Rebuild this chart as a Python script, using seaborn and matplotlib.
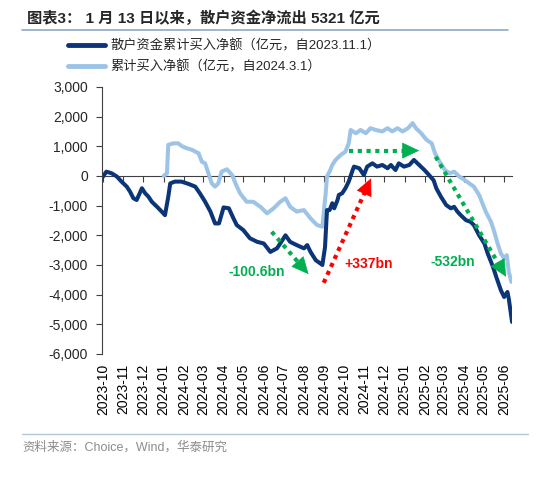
import numpy as np
import pandas as pd
import matplotlib
matplotlib.use("Agg")
import matplotlib.pyplot as plt
import matplotlib.dates as mdates
from matplotlib.ticker import FuncFormatter
import seaborn as sns

# Data (亿元)
retail_dates = [
    "2023-09-29", "2023-10-06", "2023-10-14", "2023-10-22", "2023-10-29", "2023-11-06",
    "2023-11-11", "2023-11-16", "2023-11-21", "2023-11-29", "2023-12-04", "2023-12-09",
    "2023-12-14", "2023-12-22", "2023-12-29", "2024-01-03", "2024-01-08", "2024-01-11",
    "2024-01-18", "2024-01-28", "2024-02-08", "2024-02-18", "2024-02-25", "2024-03-04",
    "2024-03-12", "2024-03-19", "2024-03-25", "2024-04-01", "2024-04-09", "2024-04-16",
    "2024-04-21", "2024-05-01", "2024-05-11", "2024-05-22", "2024-06-01", "2024-06-11",
    "2024-06-21", "2024-06-26", "2024-07-04", "2024-07-11", "2024-07-21", "2024-08-01",
    "2024-08-06", "2024-08-11", "2024-08-19", "2024-08-26", "2024-08-29", "2024-09-02",
    "2024-09-05", "2024-09-09", "2024-09-13", "2024-09-16", "2024-09-21", "2024-09-23",
    "2024-09-28", "2024-10-03", "2024-10-08", "2024-10-14", "2024-10-16", "2024-10-24",
    "2024-10-31", "2024-11-05", "2024-11-13", "2024-11-20", "2024-11-28", "2024-12-06",
    "2024-12-11", "2024-12-18", "2024-12-23", "2024-12-31", "2025-01-08", "2025-01-15",
    "2025-01-23", "2025-01-31", "2025-02-07", "2025-02-14", "2025-02-18", "2025-02-25",
    "2025-03-05", "2025-03-12", "2025-03-17", "2025-03-22", "2025-03-27", "2025-04-04",
    "2025-04-11", "2025-04-16", "2025-04-24", "2025-05-02", "2025-05-07", "2025-05-15",
    "2025-05-20", "2025-05-27", "2025-06-01", "2025-06-06", "2025-06-08", "2025-06-13",
]
retail_values = [
    -80, 145, 90, -20, -190, -360,
    -530, -750, -810, -415, -585, -700,
    -870, -1040, -1200, -1320, -700, -250,
    -190, -190, -270, -360, -585, -870,
    -1200, -1600, -1600, -1060, -1090, -1430,
    -1655, -1825, -2100, -2220, -2275, -2560,
    -2440, -2275, -2000, -2220, -2330, -2440,
    -2330, -2560, -2840, -2950, -3000, -2400,
    -1150, -1150, -920, -1090, -810, -640,
    -585, -415, -190, 200, 315, 260,
    30, 315, 425, 315, 370, 260,
    370, 200, 425, 315, 370, 540,
    370, 200, 30, -150, -415, -700,
    -980, -1090, -1040, -1200, -1320, -1490,
    -1545, -1655, -2000, -2275, -2610, -3060,
    -3400, -3850, -4080, -3910, -4130, -4920,
]

total_dates = [
    "2024-01-01", "2024-01-06", "2024-01-08", "2024-01-16", "2024-01-23", "2024-01-29",
    "2024-02-05", "2024-02-13", "2024-02-23", "2024-02-28", "2024-03-04", "2024-03-09",
    "2024-03-14", "2024-03-19", "2024-03-24", "2024-03-29", "2024-04-06", "2024-04-14",
    "2024-04-20", "2024-04-26", "2024-05-06", "2024-05-16", "2024-05-27", "2024-06-06",
    "2024-06-16", "2024-06-26", "2024-07-04", "2024-07-11", "2024-07-21", "2024-08-01",
    "2024-08-11", "2024-08-21", "2024-08-29", "2024-09-03", "2024-09-05", "2024-09-10",
    "2024-09-13", "2024-09-18", "2024-09-26", "2024-10-03", "2024-10-08", "2024-10-11",
    "2024-10-19", "2024-10-26", "2024-11-03", "2024-11-10", "2024-11-18", "2024-11-28",
    "2024-12-06", "2024-12-13", "2024-12-21", "2024-12-29", "2025-01-06", "2025-01-13",
    "2025-01-18", "2025-01-26", "2025-02-03", "2025-02-11", "2025-02-16", "2025-02-23",
    "2025-03-03", "2025-03-10", "2025-03-17", "2025-03-25", "2025-04-02", "2025-04-09",
    "2025-04-16", "2025-04-24", "2025-04-29", "2025-05-04", "2025-05-12", "2025-05-17",
    "2025-05-22", "2025-05-27", "2025-06-01", "2025-06-05", "2025-06-08", "2025-06-12",
]
total_values = [
    0, 90, 1050, 1100, 1100, 1000,
    935, 880, 765, 480, 425, 90,
    -250, -360, -250, 145, 225, 30,
    -300, -585, -870, -870, -1040, -1260,
    -1090, -870, -750, -1040, -1200, -1150,
    -1430, -1655, -1710, -585, -20, 200,
    370, 540, 710, 820, 1100, 1550,
    1440, 1550, 1440, 1610, 1550, 1500,
    1610, 1500, 1610, 1500, 1610, 1780,
    1610, 1440, 1220, 1100, 765, 480,
    200, 90, 145, -20, -135, -250,
    -360, -640, -920, -1200, -1545, -1880,
    -2275, -2610, -2780, -2670, -3230, -3570,
]

series_labels = ["散户资金累计买入净额（亿元，自2023.11.1）", "累计买入净额（亿元，自2024.3.1）"]

# annotations: (start date, start value, tip date, tip value, colour)
arrow_starts = [("2024-06-13", -1880), ("2024-08-31", -3600), ("2024-10-08", 855), ("2025-02-17", 650)]
arrow_tips = [("2024-08-08", -3310), ("2024-11-11", -80), ("2025-01-23", 855), ("2025-06-04", -3400)]
arrow_colors = ["#00B050", "#FF0000", "#00B050", "#00B050"]
note_texts = ["-100.6bn", "+337bn", "-532bn"]
note_points = [("2024-05-22", -3240), ("2024-11-07", -2970), ("2025-03-15", -2900)]
note_colors = ["#00B050", "#FF0000", "#00B050"]

DARK = "#0C3577"
LIGHT = "#9DC3E6"

sns.set_theme(style="white")
plt.rcParams["font.family"] = ["Liberation Sans", "Noto Sans CJK SC", "DejaVu Sans"]
plt.rcParams["axes.unicode_minus"] = False

df_retail = pd.DataFrame({"date": pd.to_datetime(retail_dates), "value": retail_values})
df_total = pd.DataFrame({"date": pd.to_datetime(total_dates), "value": total_values})

fig = plt.figure(figsize=(5.5, 4.82), dpi=100)
ax = fig.add_axes([0.185, 0.2656, 0.746, 0.554])

sns.lineplot(data=df_total, x="date", y="value", color=LIGHT, lw=2.9, ax=ax, label=series_labels[1])
sns.lineplot(data=df_retail, x="date", y="value", color=DARK, lw=2.9, ax=ax, label=series_labels[0])

ymin, ymax = -6000, 3000
ax.set_ylim(ymin, ymax)
ax.set_xlim(pd.Timestamp("2023-09-29"), pd.Timestamp("2025-06-13"))
ax.set_yticks(range(-6000, 3001, 1000))
ax.yaxis.set_major_formatter(FuncFormatter(lambda v, p: f"{v:,.0f}"))
ax.set_xlabel("")
ax.set_ylabel("")

for s in ["top", "right", "bottom"]:
    ax.spines[s].set_visible(False)
ax.spines["left"].set_color("#404040")
ax.spines["left"].set_linewidth(0.8)

ax.xaxis.set_major_locator(mdates.MonthLocator())
ax.xaxis.set_major_formatter(mdates.DateFormatter("%Y-%m"))
ax.tick_params(axis="x", length=0, pad=7, labelsize=10, rotation=90, colors="black")
ax.tick_params(axis="y", left=True, length=4, width=0.8, color="#404040", pad=6, labelsize=10)

# zero line with month ticks
zero_ax = ax.secondary_xaxis((0 - ymin) / (ymax - ymin))
zero_ax.xaxis.set_major_locator(mdates.MonthLocator())
zero_ax.tick_params(axis="x", direction="in", length=4, width=0.8, color="#404040",
                    labeltop=False, labelbottom=False)
for s in zero_ax.spines.values():
    s.set_color("#404040")
    s.set_linewidth(0.8)

# arrows
def dotted_arrow(start, tip, color):
    x0, y0 = mdates.date2num(pd.Timestamp(start[0])), start[1]
    x1, y1 = mdates.date2num(pd.Timestamp(tip[0])), tip[1]
    p0 = ax.transData.transform((x0, y0))
    p1 = ax.transData.transform((x1, y1))
    u = (p1 - p0) / np.hypot(*(p1 - p0))
    mx, my = ax.transData.inverted().transform(p1 - u * 12)
    ax.plot([x0, mx], [y0, my], ls=(0, (1, 1.1)), lw=3, color=color)
    ax.annotate("", xy=(x1, y1), xytext=(mx, my),
                arrowprops=dict(arrowstyle="-|>,head_length=0.95,head_width=0.45",
                                color=color, lw=0.5, shrinkA=0, shrinkB=0))

for st, tp, c in zip(arrow_starts, arrow_tips, arrow_colors):
    dotted_arrow(st, tp, c)

for txt, pt, c in zip(note_texts, note_points, note_colors):
    ax.text(pd.Timestamp(pt[0]), pt[1], txt, color=c, fontsize=10, fontweight="bold",
            ha="center", va="center")

# legend
ax.get_legend().remove()
handles, labels = ax.get_legend_handles_labels()
leg = fig.legend(handles[::-1], labels[::-1], loc="upper left", bbox_to_anchor=(68 / 550, 1 - 39 / 482),
                 frameon=False, fontsize=9.5, handlelength=2.8, handletextpad=0.4,
                 labelspacing=0.6, borderpad=0, borderaxespad=0)
for line in leg.get_lines():
    line.set_linewidth(3.5)

# title, rules and source
fig.text(27 / 550, 1 - 18 / 482, "图表3： 1 月 13 日以来，散户资金净流出 5321 亿元",
         fontsize=11, fontweight="bold", ha="left", va="center")
fig.add_artist(plt.Line2D([22 / 550, 508 / 550], [1 - 30 / 482, 1 - 30 / 482], color="#8EA9C8", lw=1.2))
fig.add_artist(plt.Line2D([22 / 550, 528 / 550], [1 - 434 / 482, 1 - 434 / 482], color="#B4C6DC", lw=1.0))
fig.text(22 / 550, 1 - 447 / 482, "资料来源：Choice，Wind，华泰研究", fontsize=9, color="#8C8C8C",
         ha="left", va="center")

fig.savefig("out.png", dpi=100)
